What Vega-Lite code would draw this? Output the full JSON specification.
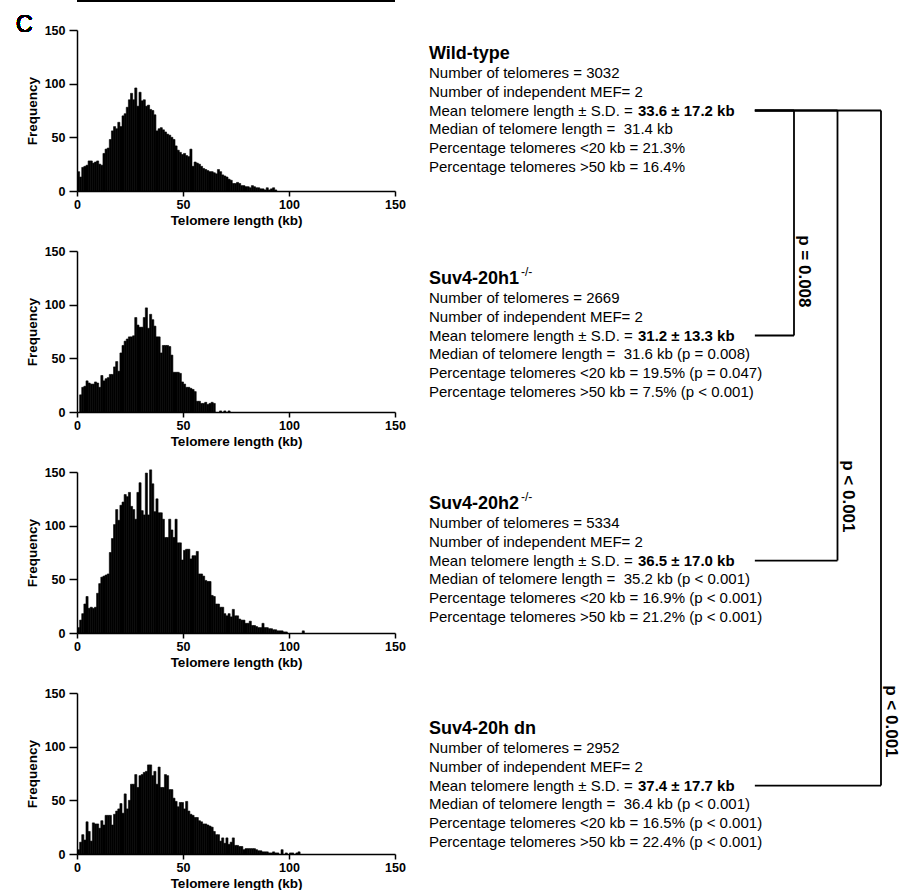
{
  "$schema": "https://vega.github.io/schema/vega-lite/v6.json",
  "padding": {"left": 15, "top": 0, "right": 0, "bottom": 0},
  "background": "white",
  "bounds": "flush",
  "spacing": 352,
  "config": {
    "font": "Liberation Sans",
    "view": {"stroke": null},
    "axis": {
      "grid": false,
      "domainColor": "black",
      "domainWidth": 1.5,
      "tickColor": "black",
      "tickWidth": 1.5,
      "labelColor": "black",
      "labelFont": "Liberation Sans",
      "labelFontWeight": "bold",
      "labelFontSize": 12.5,
      "labelFlush": false,
      "titleColor": "black",
      "titleFont": "Liberation Sans",
      "titleFontWeight": "bold",
      "titleFontSize": 13.5
    }
  },
  "datasets": {
    "wt": [{"kb":0,"kb2":1,"n":18},{"kb":1,"kb2":2,"n":13},{"kb":2,"kb2":3,"n":22},{"kb":3,"kb2":4,"n":23},{"kb":4,"kb2":5,"n":24},{"kb":5,"kb2":6,"n":28},{"kb":6,"kb2":7,"n":28},{"kb":7,"kb2":8,"n":26},{"kb":8,"kb2":9,"n":27},{"kb":9,"kb2":10,"n":28},{"kb":10,"kb2":11,"n":25},{"kb":11,"kb2":12,"n":24},{"kb":12,"kb2":13,"n":35},{"kb":13,"kb2":14,"n":39},{"kb":14,"kb2":15,"n":40},{"kb":15,"kb2":16,"n":48},{"kb":16,"kb2":17,"n":56},{"kb":17,"kb2":18,"n":60},{"kb":18,"kb2":19,"n":58},{"kb":19,"kb2":20,"n":64},{"kb":20,"kb2":21,"n":60},{"kb":21,"kb2":22,"n":70},{"kb":22,"kb2":23,"n":72},{"kb":23,"kb2":24,"n":78},{"kb":24,"kb2":25,"n":85},{"kb":25,"kb2":26,"n":91},{"kb":26,"kb2":27,"n":85},{"kb":27,"kb2":28,"n":96},{"kb":28,"kb2":29,"n":79},{"kb":29,"kb2":30,"n":92},{"kb":30,"kb2":31,"n":84},{"kb":31,"kb2":32,"n":85},{"kb":32,"kb2":33,"n":79},{"kb":33,"kb2":34,"n":80},{"kb":34,"kb2":35,"n":76},{"kb":35,"kb2":36,"n":75},{"kb":36,"kb2":37,"n":71},{"kb":37,"kb2":38,"n":56},{"kb":38,"kb2":39,"n":58},{"kb":39,"kb2":40,"n":59},{"kb":40,"kb2":41,"n":57},{"kb":41,"kb2":42,"n":55},{"kb":42,"kb2":43,"n":53},{"kb":43,"kb2":44,"n":52},{"kb":44,"kb2":45,"n":50},{"kb":45,"kb2":46,"n":48},{"kb":46,"kb2":47,"n":42},{"kb":47,"kb2":48,"n":38},{"kb":48,"kb2":49,"n":36},{"kb":49,"kb2":50,"n":34},{"kb":50,"kb2":51,"n":35},{"kb":51,"kb2":52,"n":33},{"kb":52,"kb2":53,"n":32},{"kb":53,"kb2":54,"n":39},{"kb":54,"kb2":55,"n":23},{"kb":55,"kb2":56,"n":27},{"kb":56,"kb2":57,"n":26},{"kb":57,"kb2":58,"n":25},{"kb":58,"kb2":59,"n":23},{"kb":59,"kb2":60,"n":21},{"kb":60,"kb2":61,"n":20},{"kb":61,"kb2":62,"n":19},{"kb":62,"kb2":63,"n":18},{"kb":63,"kb2":64,"n":18},{"kb":64,"kb2":65,"n":17},{"kb":65,"kb2":66,"n":16},{"kb":66,"kb2":67,"n":20},{"kb":67,"kb2":68,"n":18},{"kb":68,"kb2":69,"n":15},{"kb":69,"kb2":70,"n":14},{"kb":70,"kb2":71,"n":13},{"kb":71,"kb2":72,"n":11},{"kb":72,"kb2":73,"n":10},{"kb":73,"kb2":74,"n":7},{"kb":74,"kb2":75,"n":7},{"kb":75,"kb2":76,"n":8},{"kb":76,"kb2":77,"n":7},{"kb":77,"kb2":78,"n":5},{"kb":78,"kb2":79,"n":5},{"kb":79,"kb2":80,"n":4},{"kb":80,"kb2":81,"n":4},{"kb":81,"kb2":82,"n":3},{"kb":82,"kb2":83,"n":5},{"kb":83,"kb2":84,"n":4},{"kb":84,"kb2":85,"n":3},{"kb":85,"kb2":86,"n":3},{"kb":86,"kb2":87,"n":2},{"kb":87,"kb2":88,"n":2},{"kb":88,"kb2":89,"n":1},{"kb":89,"kb2":90,"n":3},{"kb":90,"kb2":91,"n":1},{"kb":91,"kb2":92,"n":2},{"kb":92,"kb2":93,"n":3},{"kb":93,"kb2":94,"n":1}],
    "h1": [{"kb":1,"kb2":2,"n":16},{"kb":2,"kb2":3,"n":23},{"kb":3,"kb2":4,"n":24},{"kb":4,"kb2":5,"n":29},{"kb":5,"kb2":6,"n":27},{"kb":6,"kb2":7,"n":26},{"kb":7,"kb2":8,"n":26},{"kb":8,"kb2":9,"n":28},{"kb":9,"kb2":10,"n":27},{"kb":10,"kb2":11,"n":23},{"kb":11,"kb2":12,"n":34},{"kb":12,"kb2":13,"n":29},{"kb":13,"kb2":14,"n":31},{"kb":14,"kb2":15,"n":32},{"kb":15,"kb2":16,"n":35},{"kb":16,"kb2":17,"n":35},{"kb":17,"kb2":18,"n":42},{"kb":18,"kb2":19,"n":47},{"kb":19,"kb2":20,"n":38},{"kb":20,"kb2":21,"n":55},{"kb":21,"kb2":22,"n":62},{"kb":22,"kb2":23,"n":66},{"kb":23,"kb2":24,"n":68},{"kb":24,"kb2":25,"n":70},{"kb":25,"kb2":26,"n":70},{"kb":26,"kb2":27,"n":71},{"kb":27,"kb2":28,"n":88},{"kb":28,"kb2":29,"n":81},{"kb":29,"kb2":30,"n":79},{"kb":30,"kb2":31,"n":79},{"kb":31,"kb2":32,"n":88},{"kb":32,"kb2":33,"n":97},{"kb":33,"kb2":34,"n":78},{"kb":34,"kb2":35,"n":91},{"kb":35,"kb2":36,"n":86},{"kb":36,"kb2":37,"n":80},{"kb":37,"kb2":38,"n":70},{"kb":38,"kb2":39,"n":70},{"kb":39,"kb2":40,"n":55},{"kb":40,"kb2":41,"n":62},{"kb":41,"kb2":42,"n":62},{"kb":42,"kb2":43,"n":62},{"kb":43,"kb2":44,"n":61},{"kb":44,"kb2":45,"n":53},{"kb":45,"kb2":46,"n":37},{"kb":46,"kb2":47,"n":37},{"kb":47,"kb2":48,"n":37},{"kb":48,"kb2":49,"n":36},{"kb":49,"kb2":50,"n":28},{"kb":50,"kb2":51,"n":26},{"kb":51,"kb2":52,"n":23},{"kb":52,"kb2":53,"n":23},{"kb":53,"kb2":54,"n":22},{"kb":54,"kb2":55,"n":21},{"kb":55,"kb2":56,"n":19},{"kb":56,"kb2":57,"n":10},{"kb":57,"kb2":58,"n":10},{"kb":58,"kb2":59,"n":8},{"kb":59,"kb2":60,"n":8},{"kb":60,"kb2":61,"n":9},{"kb":61,"kb2":62,"n":7},{"kb":62,"kb2":63,"n":8},{"kb":63,"kb2":64,"n":9},{"kb":64,"kb2":65,"n":8},{"kb":67,"kb2":68,"n":1},{"kb":69,"kb2":70,"n":1},{"kb":71,"kb2":72,"n":1}],
    "h2": [{"kb":0,"kb2":1,"n":5},{"kb":1,"kb2":2,"n":12},{"kb":2,"kb2":3,"n":18},{"kb":3,"kb2":4,"n":27},{"kb":4,"kb2":5,"n":34},{"kb":5,"kb2":6,"n":23},{"kb":6,"kb2":7,"n":24},{"kb":7,"kb2":8,"n":23},{"kb":8,"kb2":9,"n":24},{"kb":9,"kb2":10,"n":37},{"kb":10,"kb2":11,"n":46},{"kb":11,"kb2":12,"n":52},{"kb":12,"kb2":13,"n":53},{"kb":13,"kb2":14,"n":54},{"kb":14,"kb2":15,"n":55},{"kb":15,"kb2":16,"n":75},{"kb":16,"kb2":17,"n":88},{"kb":17,"kb2":18,"n":101},{"kb":18,"kb2":19,"n":115},{"kb":19,"kb2":20,"n":105},{"kb":20,"kb2":21,"n":119},{"kb":21,"kb2":22,"n":122},{"kb":22,"kb2":23,"n":129},{"kb":23,"kb2":24,"n":127},{"kb":24,"kb2":25,"n":131},{"kb":25,"kb2":26,"n":118},{"kb":26,"kb2":27,"n":115},{"kb":27,"kb2":28,"n":106},{"kb":28,"kb2":29,"n":131},{"kb":29,"kb2":30,"n":140},{"kb":30,"kb2":31,"n":114},{"kb":31,"kb2":32,"n":110},{"kb":32,"kb2":33,"n":149},{"kb":33,"kb2":34,"n":110},{"kb":34,"kb2":35,"n":152},{"kb":35,"kb2":36,"n":139},{"kb":36,"kb2":37,"n":113},{"kb":37,"kb2":38,"n":125},{"kb":38,"kb2":39,"n":112},{"kb":39,"kb2":40,"n":112},{"kb":40,"kb2":41,"n":106},{"kb":41,"kb2":42,"n":89},{"kb":42,"kb2":43,"n":89},{"kb":43,"kb2":44,"n":106},{"kb":44,"kb2":45,"n":96},{"kb":45,"kb2":46,"n":89},{"kb":46,"kb2":47,"n":106},{"kb":47,"kb2":48,"n":84},{"kb":48,"kb2":49,"n":84},{"kb":49,"kb2":50,"n":68},{"kb":50,"kb2":51,"n":77},{"kb":51,"kb2":52,"n":78},{"kb":52,"kb2":53,"n":78},{"kb":53,"kb2":54,"n":69},{"kb":54,"kb2":55,"n":72},{"kb":55,"kb2":56,"n":72},{"kb":56,"kb2":57,"n":76},{"kb":57,"kb2":58,"n":55},{"kb":58,"kb2":59,"n":55},{"kb":59,"kb2":60,"n":53},{"kb":60,"kb2":61,"n":49},{"kb":61,"kb2":62,"n":48},{"kb":62,"kb2":63,"n":48},{"kb":63,"kb2":64,"n":35},{"kb":64,"kb2":65,"n":34},{"kb":65,"kb2":66,"n":27},{"kb":66,"kb2":67,"n":27},{"kb":67,"kb2":68,"n":24},{"kb":68,"kb2":69,"n":24},{"kb":69,"kb2":70,"n":18},{"kb":70,"kb2":71,"n":16},{"kb":71,"kb2":72,"n":18},{"kb":72,"kb2":73,"n":15},{"kb":73,"kb2":74,"n":22},{"kb":74,"kb2":75,"n":16},{"kb":75,"kb2":76,"n":16},{"kb":76,"kb2":77,"n":13},{"kb":77,"kb2":78,"n":12},{"kb":78,"kb2":79,"n":12},{"kb":79,"kb2":80,"n":9},{"kb":80,"kb2":81,"n":9},{"kb":81,"kb2":82,"n":11},{"kb":82,"kb2":83,"n":7},{"kb":83,"kb2":84,"n":7},{"kb":84,"kb2":85,"n":6},{"kb":85,"kb2":86,"n":5},{"kb":86,"kb2":87,"n":5},{"kb":87,"kb2":88,"n":9},{"kb":88,"kb2":89,"n":5},{"kb":89,"kb2":90,"n":5},{"kb":90,"kb2":91,"n":4},{"kb":91,"kb2":92,"n":4},{"kb":92,"kb2":93,"n":3},{"kb":93,"kb2":94,"n":3},{"kb":94,"kb2":95,"n":2},{"kb":95,"kb2":96,"n":2},{"kb":96,"kb2":97,"n":2},{"kb":97,"kb2":98,"n":1},{"kb":98,"kb2":99,"n":1},{"kb":106,"kb2":107,"n":2}],
    "dn": [{"kb":0,"kb2":1,"n":4},{"kb":1,"kb2":2,"n":11},{"kb":2,"kb2":3,"n":18},{"kb":3,"kb2":4,"n":13},{"kb":4,"kb2":5,"n":30},{"kb":5,"kb2":6,"n":21},{"kb":6,"kb2":7,"n":12},{"kb":7,"kb2":8,"n":29},{"kb":8,"kb2":9,"n":28},{"kb":9,"kb2":10,"n":28},{"kb":10,"kb2":11,"n":24},{"kb":11,"kb2":12,"n":31},{"kb":12,"kb2":13,"n":27},{"kb":13,"kb2":14,"n":36},{"kb":14,"kb2":15,"n":36},{"kb":15,"kb2":16,"n":36},{"kb":16,"kb2":17,"n":27},{"kb":17,"kb2":18,"n":37},{"kb":18,"kb2":19,"n":40},{"kb":19,"kb2":20,"n":42},{"kb":20,"kb2":21,"n":47},{"kb":21,"kb2":22,"n":38},{"kb":22,"kb2":23,"n":56},{"kb":23,"kb2":24,"n":42},{"kb":24,"kb2":25,"n":50},{"kb":25,"kb2":26,"n":65},{"kb":26,"kb2":27,"n":65},{"kb":27,"kb2":28,"n":74},{"kb":28,"kb2":29,"n":62},{"kb":29,"kb2":30,"n":73},{"kb":30,"kb2":31,"n":74},{"kb":31,"kb2":32,"n":76},{"kb":32,"kb2":33,"n":77},{"kb":33,"kb2":34,"n":83},{"kb":34,"kb2":35,"n":83},{"kb":35,"kb2":36,"n":73},{"kb":36,"kb2":37,"n":77},{"kb":37,"kb2":38,"n":65},{"kb":38,"kb2":39,"n":81},{"kb":39,"kb2":40,"n":62},{"kb":40,"kb2":41,"n":62},{"kb":41,"kb2":42,"n":74},{"kb":42,"kb2":43,"n":73},{"kb":43,"kb2":44,"n":60},{"kb":44,"kb2":45,"n":60},{"kb":45,"kb2":46,"n":52},{"kb":46,"kb2":47,"n":49},{"kb":47,"kb2":48,"n":44},{"kb":48,"kb2":49,"n":48},{"kb":49,"kb2":50,"n":48},{"kb":50,"kb2":51,"n":42},{"kb":51,"kb2":52,"n":49},{"kb":52,"kb2":53,"n":40},{"kb":53,"kb2":54,"n":37},{"kb":54,"kb2":55,"n":36},{"kb":55,"kb2":56,"n":34},{"kb":56,"kb2":57,"n":34},{"kb":57,"kb2":58,"n":31},{"kb":58,"kb2":59,"n":30},{"kb":59,"kb2":60,"n":28},{"kb":60,"kb2":61,"n":28},{"kb":61,"kb2":62,"n":27},{"kb":62,"kb2":63,"n":26},{"kb":63,"kb2":64,"n":25},{"kb":64,"kb2":65,"n":21},{"kb":65,"kb2":66,"n":18},{"kb":66,"kb2":67,"n":18},{"kb":67,"kb2":68,"n":12},{"kb":68,"kb2":69,"n":15},{"kb":69,"kb2":70,"n":10},{"kb":70,"kb2":71,"n":15},{"kb":71,"kb2":72,"n":9},{"kb":72,"kb2":73,"n":11},{"kb":73,"kb2":74,"n":15},{"kb":74,"kb2":75,"n":8},{"kb":75,"kb2":76,"n":8},{"kb":76,"kb2":77,"n":7},{"kb":77,"kb2":78,"n":7},{"kb":78,"kb2":79,"n":4},{"kb":79,"kb2":80,"n":5},{"kb":80,"kb2":81,"n":5},{"kb":81,"kb2":82,"n":5},{"kb":82,"kb2":83,"n":5},{"kb":83,"kb2":84,"n":5},{"kb":84,"kb2":85,"n":4},{"kb":85,"kb2":86,"n":3},{"kb":86,"kb2":87,"n":3},{"kb":87,"kb2":88,"n":2},{"kb":88,"kb2":89,"n":2},{"kb":89,"kb2":90,"n":2},{"kb":90,"kb2":91,"n":1},{"kb":91,"kb2":92,"n":1},{"kb":92,"kb2":93,"n":2},{"kb":93,"kb2":94,"n":1},{"kb":94,"kb2":95,"n":1},{"kb":96,"kb2":97,"n":4},{"kb":98,"kb2":99,"n":1},{"kb":100,"kb2":101,"n":1},{"kb":101,"kb2":102,"n":1},{"kb":103,"kb2":104,"n":1},{"kb":104,"kb2":105,"n":2}],
    "txt": [
      {"L":-1,"t":"Wild-type","k":"title"},
      {"L":0,"t":"Number of telomeres = 3032","k":"body"},
      {"L":1,"t":"Number of independent MEF= 2","k":"body"},
      {"L":2,"t":"Mean telomere length ± S.D. =","k":"body"},
      {"L":2,"t":"33.6 ± 17.2 kb","k":"bold"},
      {"L":3,"t":"Median of telomere length = \u00a031.4 kb","k":"body"},
      {"L":4,"t":"Percentage telomeres <20 kb = 21.3%","k":"body"},
      {"L":5,"t":"Percentage telomeres >50 kb = 16.4%","k":"body"},
      {"L":11,"t":"Suv4-20h1","k":"title"},
      {"L":11,"t":"-/-","k":"sup"},
      {"L":12,"t":"Number of telomeres = 2669","k":"body"},
      {"L":13,"t":"Number of independent MEF= 2","k":"body"},
      {"L":14,"t":"Mean telomere length ± S.D. =","k":"body"},
      {"L":14,"t":"31.2 ± 13.3 kb","k":"bold"},
      {"L":15,"t":"Median of telomere length = \u00a031.6 kb (p = 0.008)","k":"body"},
      {"L":16,"t":"Percentage telomeres <20 kb = 19.5% (p = 0.047)","k":"body"},
      {"L":17,"t":"Percentage telomeres >50 kb = 7.5% (p < 0.001)","k":"body"},
      {"L":23,"t":"Suv4-20h2","k":"title"},
      {"L":23,"t":"-/-","k":"sup"},
      {"L":24,"t":"Number of telomeres = 5334","k":"body"},
      {"L":25,"t":"Number of independent MEF= 2","k":"body"},
      {"L":26,"t":"Mean telomere length ± S.D. =","k":"body"},
      {"L":26,"t":"36.5 ± 17.0 kb","k":"bold"},
      {"L":27,"t":"Median of telomere length = \u00a035.2 kb (p < 0.001)","k":"body"},
      {"L":28,"t":"Percentage telomeres <20 kb = 16.9% (p < 0.001)","k":"body"},
      {"L":29,"t":"Percentage telomeres >50 kb = 21.2% (p < 0.001)","k":"body"},
      {"L":35,"t":"Suv4-20h dn","k":"title"},
      {"L":36,"t":"Number of telomeres = 2952","k":"body"},
      {"L":37,"t":"Number of independent MEF= 2","k":"body"},
      {"L":38,"t":"Mean telomere length ± S.D. =","k":"body"},
      {"L":38,"t":"37.4 ± 17.7 kb","k":"bold"},
      {"L":39,"t":"Median of telomere length = \u00a036.4 kb (p < 0.001)","k":"body"},
      {"L":40,"t":"Percentage telomeres <20 kb = 16.5% (p < 0.001)","k":"body"},
      {"L":41,"t":"Percentage telomeres >50 kb = 22.4% (p < 0.001)","k":"body"}
    ],
    "br": [
      {"pair":1,"top":2,"bot":14,"p":"p = 0.008"},
      {"pair":2,"top":2,"bot":26,"p":"p < 0.001"},
      {"pair":3,"top":2,"bot":38,"p":"p < 0.001"}
    ]
  },
  "hconcat": [
    {
      "vconcat": [
        {
          "width": 318, "height": 161,
          "data": {"name": "wt"},
          "layer": [
            {
              "mark": {"type": "bar", "color": "black", "binSpacing": 0, "stroke": "black", "strokeWidth": 0.6},
              "encoding": {
                "x": {"field": "kb", "type": "quantitative", "bin": "binned", "scale": {"domain": [0, 150], "nice": false}, "axis": {"values": [0, 50, 100, 150], "format": "d", "title": "Telomere length (kb)", "tickSize": 5, "labelPadding": 2, "titlePadding": 3}},
                "x2": {"field": "kb2"},
                "y": {"field": "n", "type": "quantitative", "scale": {"domain": [0, 150], "nice": false}, "axis": {"values": [0, 50, 100, 150], "title": "Frequency", "tickSize": 8, "labelPadding": 4, "titlePadding": 5}}
              }
            },
            {
              "mark": {"type": "rule", "color": "black", "strokeWidth": 1.5},
              "encoding": {"y": {"datum": 177, "type": "quantitative"}}
            },
            {
              "mark": {"type": "text", "text": "C", "fontSize": 23, "fontWeight": "normal", "align": "left", "baseline": "middle", "color": "black"},
              "encoding": {"x": {"datum": -28.8, "type": "quantitative"}, "y": {"datum": 155, "type": "quantitative"}}
            }
          ]
        },
        {
          "width": 318, "height": 161,
          "data": {"name": "h1"},
          "mark": {"type": "bar", "color": "black", "binSpacing": 0, "stroke": "black", "strokeWidth": 0.6},
          "encoding": {
            "x": {"field": "kb", "type": "quantitative", "bin": "binned", "scale": {"domain": [0, 150], "nice": false}, "axis": {"values": [0, 50, 100, 150], "format": "d", "title": "Telomere length (kb)", "tickSize": 5, "labelPadding": 2, "titlePadding": 3}},
            "x2": {"field": "kb2"},
            "y": {"field": "n", "type": "quantitative", "scale": {"domain": [0, 150], "nice": false}, "axis": {"values": [0, 50, 100, 150], "title": "Frequency", "tickSize": 8, "labelPadding": 4, "titlePadding": 5}}
          }
        },
        {
          "width": 318, "height": 161,
          "data": {"name": "h2"},
          "mark": {"type": "bar", "color": "black", "binSpacing": 0, "stroke": "black", "strokeWidth": 0.6},
          "encoding": {
            "x": {"field": "kb", "type": "quantitative", "bin": "binned", "scale": {"domain": [0, 150], "nice": false}, "axis": {"values": [0, 50, 100, 150], "format": "d", "title": "Telomere length (kb)", "tickSize": 5, "labelPadding": 2, "titlePadding": 3}},
            "x2": {"field": "kb2"},
            "y": {"field": "n", "type": "quantitative", "scale": {"domain": [0, 150], "nice": false}, "axis": {"values": [0, 50, 100, 150], "title": "Frequency", "tickSize": 8, "labelPadding": 4, "titlePadding": 5}}
          }
        },
        {
          "width": 318, "height": 161,
          "data": {"name": "dn"},
          "mark": {"type": "bar", "color": "black", "binSpacing": 0, "stroke": "black", "strokeWidth": 0.6},
          "encoding": {
            "x": {"field": "kb", "type": "quantitative", "bin": "binned", "scale": {"domain": [0, 150], "nice": false}, "axis": {"values": [0, 50, 100, 150], "format": "d", "title": "Telomere length (kb)", "tickSize": 5, "labelPadding": 2, "titlePadding": 3}},
            "x2": {"field": "kb2"},
            "y": {"field": "n", "type": "quantitative", "scale": {"domain": [0, 150], "nice": false}, "axis": {"values": [0, 50, 100, 150], "title": "Frequency", "tickSize": 8, "labelPadding": 4, "titlePadding": 5}}
          }
        }
      ],
      "spacing": 60,
      "bounds": "flush"
    },
    {
      "width": 469, "height": 824,
      "layer": [
        {"data": {"name": "txt"}, "transform": [{"filter": "datum.k === 'title'"}], "mark": {"type": "text", "align": "left", "baseline": "middle", "fontSize": 18, "fontWeight": "bold", "color": "black"},
         "encoding": {"x": {"datum": -7.391, "type": "quantitative", "scale": {"domain": [-7.391, 3.391], "nice": false, "zero": false}, "axis": null}, "y": {"field": "L", "type": "quantitative", "scale": {"domain": [-2.293, 41.65], "reverse": true, "nice": false, "zero": false}, "axis": null}, "text": {"field": "t"}}},
        {"data": {"name": "txt"}, "transform": [{"filter": "datum.k === 'sup'"}], "mark": {"type": "text", "align": "left", "baseline": "middle", "fontSize": 12, "dx": 92, "dy": -7, "color": "black"},
         "encoding": {"x": {"datum": -7.391, "type": "quantitative"}, "y": {"field": "L", "type": "quantitative"}, "text": {"field": "t"}}},
        {"data": {"name": "txt"}, "transform": [{"filter": "datum.k === 'body'"}], "mark": {"type": "text", "align": "left", "baseline": "middle", "fontSize": 15, "color": "black"},
         "encoding": {"x": {"datum": -7.391, "type": "quantitative"}, "y": {"field": "L", "type": "quantitative"}, "text": {"field": "t"}}},
        {"data": {"name": "txt"}, "transform": [{"filter": "datum.k === 'bold'"}], "mark": {"type": "text", "align": "left", "baseline": "middle", "fontSize": 15, "fontWeight": "bold", "dx": 209, "color": "black"},
         "encoding": {"x": {"datum": -7.391, "type": "quantitative"}, "y": {"field": "L", "type": "quantitative"}, "text": {"field": "t"}}},
        {
          "data": {"name": "br"},
          "mark": {"type": "rule", "color": "black", "strokeWidth": 1.8},
          "encoding": {
            "x": {"field": "pair", "type": "quantitative"},
            "y": {"field": "top", "type": "quantitative"},
            "y2": {"field": "bot"}
          }
        },
        {
          "data": {"name": "br"},
          "mark": {"type": "rule", "color": "black", "strokeWidth": 1.8},
          "encoding": {
            "x": {"field": "pair", "type": "quantitative"},
            "x2": {"datum": 0.1},
            "y": {"field": "bot", "type": "quantitative"}
          }
        },
        {
          "data": {"name": "br"},
          "mark": {"type": "rule", "color": "black", "strokeWidth": 1.8},
          "encoding": {
            "x": {"field": "pair", "type": "quantitative"},
            "x2": {"datum": 0.1},
            "y": {"field": "top", "type": "quantitative"}
          }
        },
        {
          "data": {"name": "br"},
          "mark": {"type": "text", "angle": 90, "align": "right", "baseline": "middle", "fontSize": 17, "fontWeight": "bold", "dx": -28, "dy": -10.5, "color": "black"},
          "encoding": {
            "x": {"field": "pair", "type": "quantitative"},
            "y": {"field": "bot", "type": "quantitative"},
            "text": {"field": "p"}
          }
        }
      ]
    }
  ]
}
